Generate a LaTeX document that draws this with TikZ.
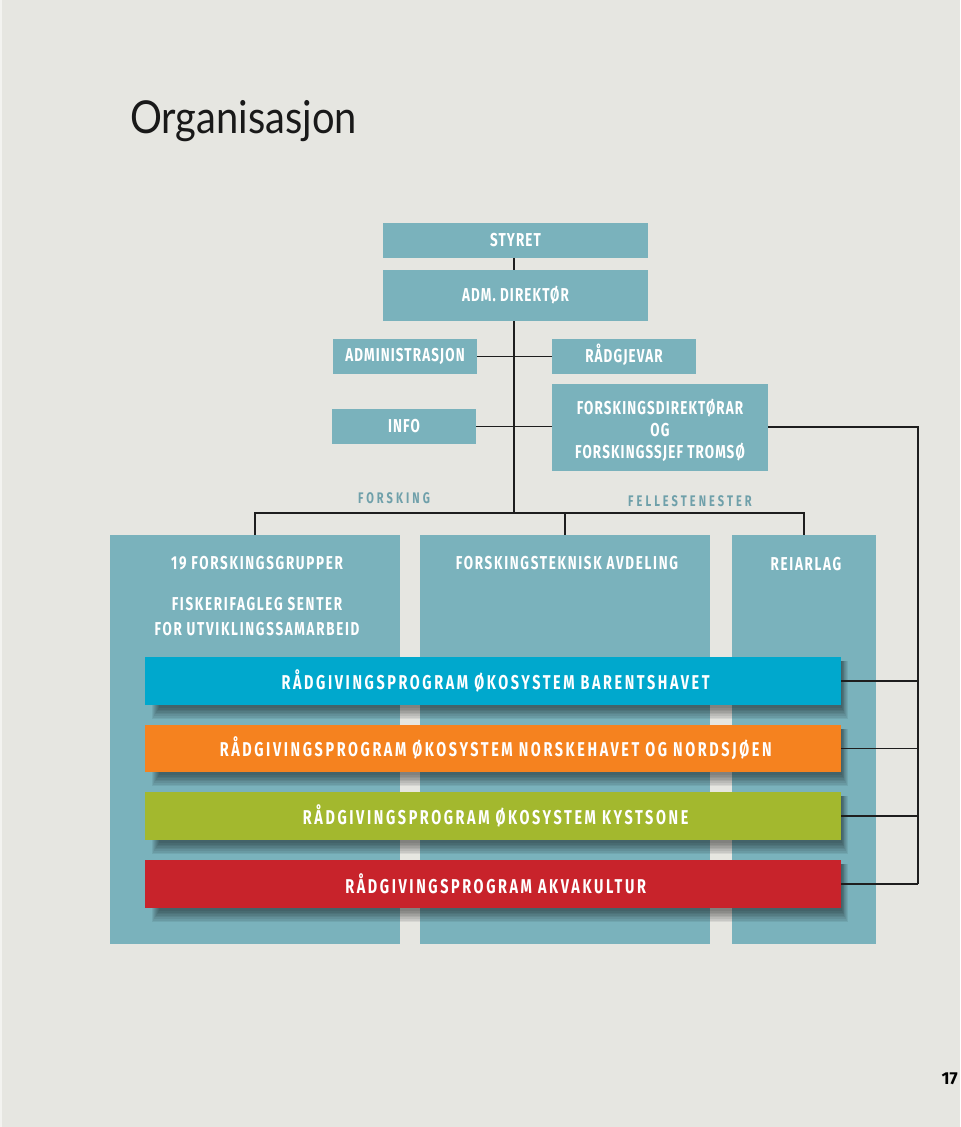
\documentclass[tikz,border=0pt]{standalone}
\usepackage{fontspec}
\setmainfont{Fira Sans}
\newfontfamily\labfont[FakeStretch=0.72,LetterSpace=6]{Fira Sans}
\newfontfamily\bigfont[FakeStretch=0.72,LetterSpace=9]{Fira Sans}
\newfontfamily\barfont[FakeStretch=0.72,LetterSpace=13]{Fira Sans}
\newfontfamily\secfont[FakeStretch=0.72,LetterSpace=20]{Fira Sans}
\newfontfamily\titlefont[FakeStretch=0.88]{Lato}
\usetikzlibrary{fit}
\definecolor{bg}{HTML}{E6E6E1}
\definecolor{tealbox}{HTML}{7AB2BC}
\definecolor{tealtxt}{HTML}{6FA0AA}
\definecolor{cyanbar}{HTML}{00A8CD}
\definecolor{orangebar}{HTML}{F5821F}
\definecolor{greenbar}{HTML}{A3B82E}
\definecolor{redbar}{HTML}{C8232B}
\definecolor{lin}{HTML}{1E1E1E}
\pgfdeclarelayer{back}
\pgfdeclarelayer{shade}
\pgfsetlayers{back,shade,main}
\tikzset{
  box/.style={fill=tealbox, inner sep=0pt, outer sep=0pt},
  lab/.style={inner sep=0pt, text=white, align=center,
    font=\labfont\bfseries\fontsize{14}{16.5}\selectfont},
  boxtext/.style={inner sep=0pt, text=white, font=\bigfont\bfseries\fontsize{14}{16}\selectfont},
  bar/.style={inner sep=0pt, outer sep=0pt},
  bartext/.style={inner sep=0pt, text=white, font=\barfont\bfseries\fontsize{15}{17}\selectfont},
  sec/.style={inner sep=0pt, text=tealtxt, font=\secfont\bfseries\fontsize{11.5}{13}\selectfont},
  conn/.style={draw=lin, line width=1.3pt},
}
\begin{document}
\begin{tikzpicture}[x=0.75pt,y=-0.75pt]
\useasboundingbox (0,0) rectangle (960,1127);
\begin{pgfonlayer}{back}
\fill[bg] (0,0) rectangle (960,1127);
\fill[white!50!bg] (0,0) rectangle (2,1127);
\end{pgfonlayer}

\node[anchor=base west, inner sep=0pt, text=black!90, font=\titlefont\fontsize{34}{40}\selectfont] (title) at (130,134) {Organisasjon};

% top boxes
\node[box, fit={(383,223)(648,258)}] (styret) {};
\node[box, fit={(383,270)(648,321)}] (adm) {};
\node[box, fit={(333,339)(477,374)}] (admin) {};
\node[box, fit={(552,339)(696,374)}] (rad) {};
\node[box, fit={(332,409)(476,444)}] (info) {};
\node[box, fit={(552,384)(768,471)}] (fdir) {};
\node[lab] (styret-t) at (styret.center) {STYRET};
\node[lab] (adm-t) at (adm.center) {ADM. DIREKTØR};
\node[lab] (admin-t) at (admin.center) {ADMINISTRASJON};
\node[lab] (rad-t) at ([yshift=1pt]rad.center) {RÅDGJEVAR};
\node[lab] (info-t) at (info.center) {INFO};
\node[lab] (fdir-t) at ([yshift=-2pt]fdir.center) {FORSKINGSDIREKTØRAR\\OG\\FORSKINGSSJEF TROMSØ};

% section labels
\node[sec, anchor=base] (forsking) at (394,503) {FORSKING};
\node[sec, anchor=base] (felles) at (690,506) {FELLESTENESTER};

% big columns
\begin{pgfonlayer}{back}
\node[box, fit={(110,535)(400,944)}] (b1) {};
\node[box, fit={(420,535)(710,944)}] (b2) {};
\node[box, fit={(732,535)(876,944)}] (b3) {};
\end{pgfonlayer}
\node[boxtext, anchor=base] (t1) at (257,569) {19 FORSKINGSGRUPPER};
\node[boxtext, anchor=base] (t2a) at (257,610) {FISKERIFAGLEG SENTER};
\node[boxtext, anchor=base] (t2b) at (257,635) {FOR UTVIKLINGSSAMARBEID};
\node[boxtext, anchor=base] (t3) at (567,569) {FORSKINGSTEKNISK AVDELING};
\node[boxtext, anchor=base] (t4) at (806,570) {REIARLAG};

% programme bars
\node[bar, fill=cyanbar, fit={(145,657)(841,705)}] (p1) {};
\node[bar, fill=orangebar, fit={(145,725)(841,772)}] (p2) {};
\node[bar, fill=greenbar, fit={(145,792)(841,840)}] (p3) {};
\node[bar, fill=redbar, fit={(145,860)(841,908)}] (p4) {};
\node[bartext] (p1-t) at ([xshift=2pt]p1.center) {RÅDGIVINGSPROGRAM ØKOSYSTEM BARENTSHAVET};
\node[bartext] (p2-t) at ([xshift=2pt]p2.center) {RÅDGIVINGSPROGRAM ØKOSYSTEM NORSKEHAVET OG NORDSJØEN};
\node[bartext] (p3-t) at ([xshift=2pt]p3.center) {RÅDGIVINGSPROGRAM ØKOSYSTEM KYSTSONE};
\node[bartext] (p4-t) at ([xshift=2pt]p4.center) {RÅDGIVINGSPROGRAM AKVAKULTUR};

\begin{pgfonlayer}{shade}
\foreach \p in {p1,p2,p3,p4}{
  \foreach \i in {0,...,7}{
    \fill[black, opacity=0.065] ([shift={(14-\i,4)}]\p.north west) rectangle ([shift={(1+0.8*\i,3+1.6*\i)}]\p.south east);
  }
}
\end{pgfonlayer}

% connectors
\coordinate (j) at (514,513);
\coordinate (r) at (918,427);
\draw[conn] (styret.south -| j) -- (adm.north -| j);
\draw[conn] (adm.south -| j) -- (j);
\draw[conn] (admin.east) -- (rad.west);
\draw[conn] (info.east) -- (info.east -| fdir.west);
\draw[conn] (b1.north) |- (j) -| (b3.north);
\draw[conn] (b2.north) -- (b2.north |- j);
\draw[conn] (fdir.east |- r) -- (r) -- (r |- p4.east);
\foreach \p in {p1,p2,p3,p4}{
  \draw[conn] (\p.east) -- (\p.east -| r);
}

\node[anchor=base east, inner sep=0pt, font=\bfseries\fontsize{13}{15}\selectfont] (pg) at (958,1084) {17};
\end{tikzpicture}
\end{document}
